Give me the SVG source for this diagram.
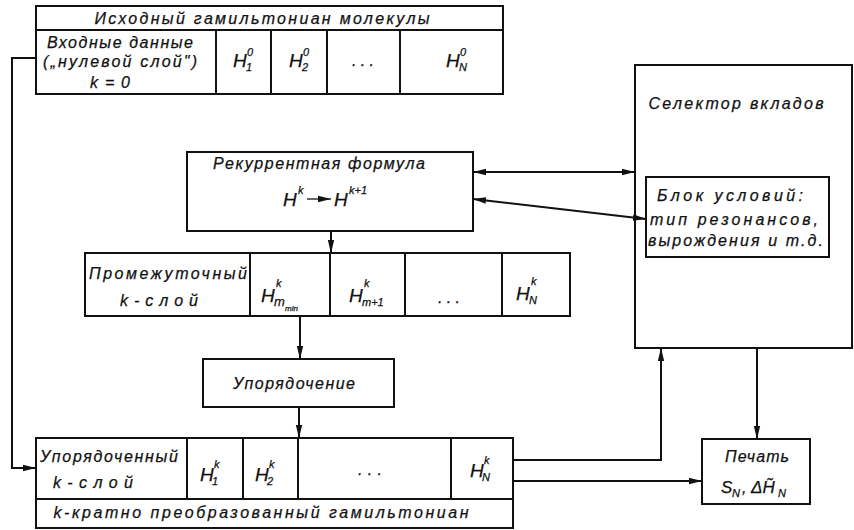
<svg xmlns="http://www.w3.org/2000/svg" width="854" height="530" viewBox="0 0 854 530">
<defs>
<style>
.b{fill:none;stroke:#111;stroke-width:2}
.c{fill:none;stroke:#111;stroke-width:2}
.a{marker-end:url(#ah)}
.d{marker-start:url(#ah);marker-end:url(#ah)}
text{font-family:"Liberation Sans",Arial,sans-serif;font-style:italic;fill:#111;stroke:#111;stroke-width:0.25}
.t{font-size:16px}
.tm{font-size:16px;text-anchor:middle}
.h{font-size:19px}
.s{font-size:11px}
.x{font-size:8px}
</style>
<marker id="ah" markerUnits="userSpaceOnUse" markerWidth="14" markerHeight="8" refX="13" refY="4" orient="auto-start-reverse">
<path d="M0,0.8 L13,4 L0,7.2 z" fill="#111"/>
</marker>
</defs>
<rect width="854" height="530" fill="#fff"/>

<g id="top-table">
<rect class="b" x="36" y="6" width="467" height="88"/>
<path class="b" d="M36,30 H503 M216,30 V94 M271,30 V94 M327,30 V94 M400,30 V94"/>
<text class="tm" x="262" y="24" textLength="335" lengthAdjust="spacing">Исходный гамильтониан молекулы</text>
<text class="tm" x="120" y="48" textLength="146" lengthAdjust="spacing">Входные данные</text>
<text class="tm" x="120" y="67" textLength="154" lengthAdjust="spacing">(„нулевой слой")</text>
<text class="tm" x="110" y="88" textLength="40" lengthAdjust="spacing">k=0</text>
<text class="h" x="233" y="67">H</text><text class="s" x="247" y="56">0</text><text class="s" x="246" y="71">1</text>
<text class="h" x="289" y="67">H</text><text class="s" x="303" y="56">0</text><text class="s" x="302" y="71">2</text>
<text class="tm" x="363" y="66" textLength="22" lengthAdjust="spacing">...</text>
<text class="h" x="446" y="67">H</text><text class="s" x="460" y="56">0</text><text class="s" x="459" y="71">N</text>
</g>

<g id="recurrence">
<rect class="b" x="187" y="152" width="286" height="79"/>
<text class="tm" x="319" y="169" textLength="212" lengthAdjust="spacing">Рекуррентная формула</text>
<text class="h" x="283" y="206">H</text><text class="s" x="298" y="194">k</text>
<line class="c a" x1="307" y1="199" x2="331" y2="199" style="stroke-width:1.3"/>
<text class="h" x="334" y="206">H</text><text class="s" x="349" y="194">k+1</text>
</g>

<g id="intermediate">
<rect class="b" x="85" y="253" width="485" height="63"/>
<path class="b" d="M250,253 V316 M330,253 V316 M405,253 V316 M502,253 V316"/>
<text class="tm" x="168" y="279" textLength="158" lengthAdjust="spacing">Промежуточный</text>
<text class="tm" x="159" y="306" textLength="78" lengthAdjust="spacing">k-слой</text>
<text class="h" x="261" y="302">H</text><text class="s" x="276" y="287">k</text><text class="s" x="274" y="306" style="font-size:13px">m</text><text class="x" x="285" y="311">min</text>
<text class="h" x="349" y="302">H</text><text class="s" x="364" y="287">k</text><text class="s" x="362" y="306">m+1</text>
<text class="tm" x="449" y="303" textLength="22" lengthAdjust="spacing">...</text>
<text class="h" x="516" y="300">H</text><text class="s" x="531" y="285">k</text><text class="s" x="529" y="304">N</text>
</g>

<g id="ordering">
<rect class="b" x="203" y="359" width="191" height="48"/>
<text class="tm" x="294" y="389" textLength="122" lengthAdjust="spacing">Упорядочение</text>
</g>

<g id="bottom-table">
<rect class="b" x="36" y="438" width="477" height="90"/>
<path class="b" d="M36,499 H513 M187,438 V499 M243,438 V499 M298,438 V499 M451,438 V499"/>
<text class="tm" x="109" y="462" textLength="138" lengthAdjust="spacing">Упорядоченный</text>
<text class="tm" x="93" y="488" textLength="80" lengthAdjust="spacing">k-слой</text>
<text class="h" x="200" y="481">H</text><text class="s" x="214" y="468">k</text><text class="s" x="212" y="485">1</text>
<text class="h" x="255" y="481">H</text><text class="s" x="269" y="468">k</text><text class="s" x="267" y="485">2</text>
<text class="tm" x="370" y="475" textLength="24" lengthAdjust="spacing">...</text>
<text class="h" x="470" y="477">H</text><text class="s" x="484" y="464">k</text><text class="s" x="482" y="481">N</text>
<text class="tm" x="261" y="518" textLength="415" lengthAdjust="spacing">k-кратно преобразованный гамильтониан</text>
</g>

<g id="selector">
<rect class="b" x="635" y="65" width="217" height="283"/>
<text class="tm" x="736" y="109" textLength="175" lengthAdjust="spacing">Селектор вкладов</text>
</g>

<g id="conditions">
<rect class="b" x="646" y="177" width="183" height="80"/>
<text class="t" x="657" y="201" textLength="146" lengthAdjust="spacing">Блок условий:</text>
<text class="t" x="650" y="225" textLength="168" lengthAdjust="spacing">тип резонансов,</text>
<text class="t" x="648" y="246" textLength="175" lengthAdjust="spacing">вырождения и т.д.</text>
</g>

<g id="print">
<rect class="b" x="702" y="439" width="108" height="65"/>
<text class="tm" x="757" y="462" textLength="64" lengthAdjust="spacing">Печать</text>
<text class="h" x="721" y="493" style="font-size:17px">S</text><text class="s" x="732" y="497">N</text>
<text class="t" x="742" y="493">,</text>
<text class="h" x="751" y="493" style="font-size:17px">ΔH̃</text><text class="s" x="778" y="497">N</text>
</g>

<g id="connectors">
<polyline class="c a" points="36,58 12,58 12,468 36,468"/>
<line class="c a" x1="331" y1="231" x2="331" y2="253"/>
<line class="c a" x1="300" y1="316" x2="300" y2="359"/>
<line class="c a" x1="299" y1="407" x2="299" y2="438"/>
<polyline class="c a" points="513,460 661,460 661,348"/>
<line class="c a" x1="513" y1="481" x2="702" y2="481"/>
<line class="c a" x1="757" y1="348" x2="757" y2="439"/>
<line class="c d" x1="473" y1="172" x2="635" y2="172"/>
<line class="c d" x1="473" y1="199" x2="646" y2="219"/>
</g>
</svg>
